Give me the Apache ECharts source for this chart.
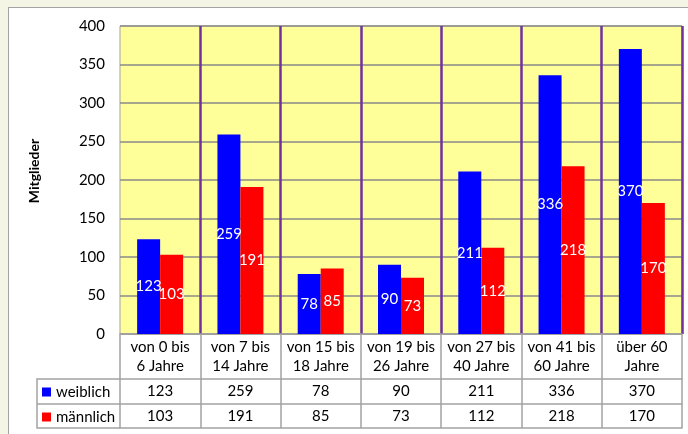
<!DOCTYPE html>
<html>
<head>
<meta charset="utf-8">
<script src="https://cdn.jsdelivr.net/npm/echarts@6/dist/echarts.min.js"></script>
<style>
  body { margin: 0; background: #f4f5e4; }
  #frame { position: absolute; left: 8px; top: 7px; width: 680px; height: 427px;
           background: #fff; border-left: 1.5px solid #a3a3a3; border-top: 1.5px solid #a3a3a3; }
  #main { position: absolute; left: 0; top: 0; width: 688px; height: 434px; }
</style>
</head>
<body>
<div id="frame"></div>
<div id="main"></div>
<script>
// Altersgruppen
var categories = ['von 0 bis\n6 Jahre', 'von 7 bis\n14 Jahre', 'von 15 bis\n18 Jahre', 'von 19 bis\n26 Jahre',
  'von 27 bis\n40 Jahre', 'von 41 bis\n60 Jahre', 'über 60\nJahre']
var weiblich = [123, 259, 78, 90, 211, 336, 370]
var maennlich = [103, 191, 85, 73, 112, 218, 170]
var yTicks = [0, 50, 100, 150, 200, 250, 300, 350, 400]

var FONT = 'Lato, "Open Sans", sans-serif'
var LINE = '#a3a3a3'
// Tabellen-Layout
var gLeft = 120, gTop = 26, gRight = 6, gBottom = 100
var catRow = 45, rowH = 25
var tableLeft = 37
var axisY = 434 - gBottom

var myChart = echarts.init(document.getElementById('main'))

// Tabellenzeilen als zusaetzliche x-Achsen
function rowAxis(offset, values, tickLen) {
  return {
    type: 'category', data: categories, position: 'bottom', offset: offset,
    axisLine: { show: true, lineStyle: { color: LINE, width: 1.5 } },
    axisTick: { show: tickLen > 0, interval: 0, length: tickLen, lineStyle: { color: LINE, width: 1.5 } },
    axisLabel: {
      show: !!values, interval: 0, margin: 12, verticalAlign: 'middle',
      fontFamily: FONT, fontSize: 15, color: '#000',
      formatter: function (v, i) { return values ? String(values[i]) : '' }
    },
    splitLine: { show: false }
  }
}

var labelOpt = { show: true, position: 'inside', color: '#fff', fontFamily: FONT, fontSize: 15 }

myChart.setOption({
  animation: false,
  textStyle: { fontFamily: FONT },
  grid: { left: gLeft, top: gTop, right: gRight, bottom: gBottom, show: true,
    backgroundColor: '#ffff99', borderColor: LINE, borderWidth: 1 },
  legend: {
    orient: 'vertical', left: tableLeft + 5, top: axisY + catRow + 5, padding: 0,
    itemWidth: 9, itemHeight: 9, itemGap: 9, icon: 'rect',
    textStyle: { fontFamily: FONT, fontSize: 15, color: '#000', lineHeight: 16 },
    data: ['weiblich', 'männlich']
  },
  xAxis: [
    {
      type: 'category', data: categories, position: 'bottom',
      axisLine: { show: true, lineStyle: { color: LINE, width: 1.5 } },
      axisTick: { show: true, interval: 0, length: catRow, lineStyle: { color: LINE, width: 1.5 } },
      axisLabel: { interval: 0, margin: 23, verticalAlign: 'middle', lineHeight: 19,
        fontFamily: FONT, fontSize: 15, color: '#000' },
      splitLine: { show: true, interval: function (i) { return i > 0 },
        lineStyle: { color: '#7030a0', width: 2.5 } }
    },
    rowAxis(catRow, weiblich, rowH),
    rowAxis(catRow + rowH, maennlich, rowH - 1),
    rowAxis(catRow + rowH * 2 - 1, null, 0)
  ],
  yAxis: {
    type: 'value', min: yTicks[0], max: yTicks[yTicks.length - 1], interval: 50,
    name: 'Mitglieder', nameLocation: 'middle', nameRotate: 90, nameGap: 79,
    nameTextStyle: { fontFamily: FONT, fontSize: 14, fontWeight: 'bold', color: '#000', padding: [0, 0, 0, 18] },
    axisLine: { show: false }, axisTick: { show: false },
    axisLabel: { margin: 15, fontFamily: FONT, fontSize: 15, color: '#000' },
    splitLine: { show: true, lineStyle: { color: '#8a8a8a', width: 1.5 } }
  },
  graphic: [
    { type: 'polyline', silent: true, z: 10,
      shape: { points: [[gLeft, axisY + catRow], [tableLeft, axisY + catRow], [tableLeft, axisY + catRow + rowH * 2 - 1], [gLeft, axisY + catRow + rowH * 2 - 1]] },
      style: { stroke: LINE, lineWidth: 1.5, fill: null } },
    { type: 'line', silent: true, z: 10,
      shape: { x1: tableLeft, y1: axisY + catRow + rowH, x2: gLeft, y2: axisY + catRow + rowH },
      style: { stroke: LINE, lineWidth: 1.5 } }
  ],
  series: [
    { name: 'weiblich', type: 'bar', data: weiblich, barWidth: 23, barGap: '0%',
      itemStyle: { color: '#0000ff' }, label: labelOpt },
    { name: 'männlich', type: 'bar', data: maennlich, barWidth: 23, barGap: '0%',
      itemStyle: { color: '#ff0000' }, label: labelOpt }
  ]
})
</script>
</body>
</html>
